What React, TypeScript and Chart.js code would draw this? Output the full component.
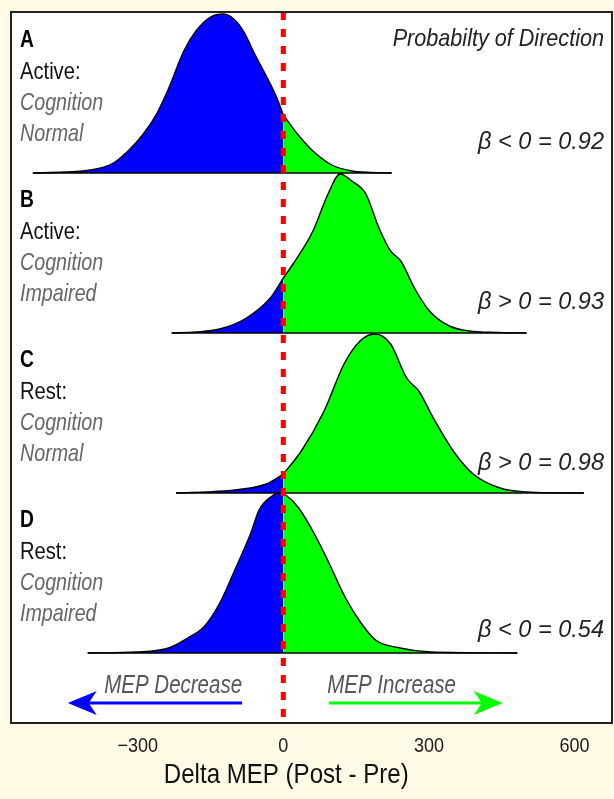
import React, { useEffect, useRef } from 'react';
import { Chart, registerables } from 'chart.js';

Chart.register(...registerables);

// ---- data ----
const xTicks = [-300, 0, 300, 600];
const panelLetters = ['A', 'B', 'C', 'D'];
const panelConditions = ['Active:', 'Active:', 'Rest:', 'Rest:'];
const panelCognition = ['Cognition', 'Cognition', 'Cognition', 'Cognition'];
const panelStatus = ['Normal', 'Impaired', 'Normal', 'Impaired'];
const pdLabels = ['\u03B2 < 0 = 0.92', '\u03B2 > 0 = 0.93', '\u03B2 > 0 = 0.98', '\u03B2 < 0 = 0.54'];
const directionLabels = ['MEP Decrease', 'MEP Increase'];
const directionArrows = [
  { from: -85, to: -444, color: '#0000FF' },
  { from: 94, to: 452, color: '#00FF00' },
];
const directionLabelX = [-227, 223];

// [delta MEP, density]
const densityA: [number, number][] = [
  [-516, 0], [-450, 0.01], [-397, 0.03], [-350, 0.1], [-320, 0.22], [-290, 0.38], [-260, 0.6],
  [-236, 0.85], [-205, 1.22], [-180, 1.42], [-150, 1.56], [-123, 1.59], [-100, 1.53], [-80, 1.4],
  [-60, 1.2], [-33, 0.95], [-15, 0.77], [0, 0.58], [29, 0.39], [61, 0.22], [100, 0.08],
  [141, 0.02], [180, 0.005], [223, 0],
];
const densityB: [number, number][] = [
  [-230, 0], [-180, 0.01], [-131, 0.04], [-76, 0.15], [-27, 0.35], [0, 0.55], [20, 0.69],
  [61, 1.02], [92, 1.39], [117, 1.59], [141, 1.52], [170, 1.39], [197, 1.05], [221, 0.82],
  [242, 0.72], [270, 0.45], [301, 0.22], [342, 0.07], [383, 0.02], [440, 0.005], [501, 0],
];
const densityC: [number, number][] = [
  [-221, 0], [-160, 0.01], [-100, 0.03], [-35, 0.09], [0, 0.19], [37, 0.42], [84, 0.82],
  [125, 1.29], [158, 1.52], [188, 1.59], [221, 1.49], [254, 1.15], [279, 1.02], [309, 0.75],
  [350, 0.42], [391, 0.19], [446, 0.05], [502, 0.01], [560, 0.002], [619, 0],
];
const densityD: [number, number][] = [
  [-403, 0], [-302, 0.01], [-236, 0.05], [-197, 0.15], [-164, 0.26], [-131, 0.5], [-100, 0.83],
  [-67, 1.2], [-50, 1.43], [-26, 1.56], [-7, 1.6], [0, 1.59], [5, 1.58], [30, 1.46], [63, 1.2],
  [94, 0.9], [127, 0.56], [160, 0.3], [190, 0.13], [240, 0.05], [304, 0.01], [482, 0],
];
const ridges = [densityA, densityB, densityC, densityD];

// ---- layout constants ----
const X_MIN = -561;
const X_MAX = 677;
const Y_MAX = 7.11;
const ROW_STEP = 1.6;
const ROW_BASE0 = 0.7;
const ARROW_Y = 0.2;
const DIR_LABEL_Y = 0.3;
const PD_LABEL_DY = [0, 0, 1, 8];
const FONT = '"Liberation Sans", Arial, Helvetica, sans-serif';

const baselineOf = (i: number) => ROW_BASE0 + (ridges.length - 1 - i) * ROW_STEP;

function drawText(
  ctx: CanvasRenderingContext2D, text: string, x: number, y: number,
  font: string, color: string, align: CanvasTextAlign, sx: number,
) {
  ctx.save();
  ctx.font = font;
  ctx.fillStyle = color;
  ctx.textAlign = align;
  ctx.textBaseline = 'alphabetic';
  ctx.translate(x, y);
  ctx.scale(sx, 1);
  ctx.fillText(text, 0, 0);
  ctx.restore();
}

const annotPlugin = {
  id: 'annot',
  beforeDraw(chart: any) {
    const { ctx, chartArea: ca } = chart;
    ctx.save();
    ctx.fillStyle = '#FFFFFF';
    ctx.fillRect(ca.left, ca.top, ca.right - ca.left, ca.bottom - ca.top);
    ctx.restore();
  },
  afterDatasetsDraw(chart: any) {
    const { ctx, chartArea: ca } = chart;
    const xs = chart.scales.x;
    const ys = chart.scales.y;

    // arrows
    directionArrows.forEach((a) => {
      const x0 = xs.getPixelForValue(a.from);
      const x1 = xs.getPixelForValue(a.to);
      const y = ys.getPixelForValue(ARROW_Y);
      const dir = Math.sign(x1 - x0);
      const headLen = 29;
      const halfW = 12;
      ctx.save();
      ctx.strokeStyle = a.color;
      ctx.fillStyle = a.color;
      ctx.lineWidth = 3;
      ctx.beginPath();
      ctx.moveTo(x0, y);
      ctx.lineTo(x1 - dir * headLen * 0.7, y);
      ctx.stroke();
      ctx.beginPath();
      ctx.moveTo(x1, y);
      ctx.lineTo(x1 - dir * headLen, y - halfW);
      ctx.lineTo(x1 - dir * headLen * 0.72, y);
      ctx.lineTo(x1 - dir * headLen, y + halfW);
      ctx.closePath();
      ctx.fill();
      ctx.restore();
    });

    directionLabels.forEach((t, i) => {
      drawText(ctx, t, xs.getPixelForValue(directionLabelX[i]), ys.getPixelForValue(DIR_LABEL_Y),
        `italic 25px ${FONT}`, '#555555', 'center', 0.82);
    });

    // panel labels
    const step = ys.getPixelForValue(0) - ys.getPixelForValue(ROW_STEP);
    for (let i = 0; i < ridges.length; i++) {
      const off = ca.top + i * step;
      const lx = ca.left + 9;
      drawText(ctx, panelLetters[i], lx, off + 35, `bold 24px ${FONT}`, '#000000', 'left', 0.8);
      drawText(ctx, panelConditions[i], lx, off + 67, `24px ${FONT}`, '#111111', 'left', 0.84);
      drawText(ctx, panelCognition[i], lx, off + 98, `italic 24px ${FONT}`, '#666666', 'left', 0.82);
      drawText(ctx, panelStatus[i], lx, off + 129, `italic 24px ${FONT}`, '#666666', 'left', 0.82);
      drawText(ctx, pdLabels[i], ca.right - 8, off + 137 + PD_LABEL_DY[i], `italic 24px ${FONT}`, '#222222', 'right', 0.98);
    }
    drawText(ctx, 'Probabilty of Direction', ca.right - 8, ca.top + 34,
      `italic 24px ${FONT}`, '#222222', 'right', 0.9);

    // frame
    ctx.save();
    ctx.strokeStyle = '#222222';
    ctx.lineWidth = 2;
    ctx.strokeRect(ca.left, ca.top, ca.right - ca.left, ca.bottom - ca.top);
    ctx.restore();
  },
  afterDraw(chart: any) {
    const { ctx, chartArea: ca } = chart;
    const xs = chart.scales.x;
    xTicks.forEach((v) => {
      const label = v < 0 ? '\u2212' + Math.abs(v) : String(v);
      drawText(ctx, label, xs.getPixelForValue(v), ca.bottom + 29, `20px ${FONT}`, '#222222', 'center', 0.9);
    });
    drawText(ctx, 'Delta MEP (Post - Pre)', xs.getPixelForValue(6), ca.bottom + 60,
      `28px ${FONT}`, '#111111', 'center', 0.86);
  },
};

export default function App() {
  const ref = useRef<HTMLCanvasElement | null>(null);

  useEffect(() => {
    if (!ref.current) return;
    const datasets: any[] = [];
    ridges.forEach((r, i) => {
      const base = baselineOf(i);
      const left = r.filter((p) => p[0] <= 0).map((p) => ({ x: p[0], y: base + p[1] }));
      const right = r.filter((p) => p[0] >= 0).map((p) => ({ x: p[0], y: base + p[1] }));
      const order = 10 - i;
      [[left, '#0000FF'], [right, '#00FF00']].forEach(([pts, col]) => {
        datasets.push({
          data: pts,
          backgroundColor: col,
          borderColor: '#000000',
          borderWidth: 1.4,
          fill: { value: base },
          pointRadius: 0,
          cubicInterpolationMode: 'monotone',
          order,
        });
      });
      datasets.push({
        data: [{ x: r[0][0], y: base }, { x: r[r.length - 1][0], y: base }],
        borderColor: '#000000',
        borderWidth: 1.6,
        pointRadius: 0,
        fill: false,
        order: 5,
      });
    });
    datasets.push({
      data: [{ x: 0, y: Y_MAX }, { x: 0, y: 0 }],
      borderColor: '#FF0000',
      borderWidth: 5,
      borderDash: [8, 9],
      pointRadius: 0,
      fill: false,
      order: 0,
    });

    const chart = new Chart(ref.current, {
      type: 'line',
      data: { datasets },
      options: {
        animation: false,
        responsive: false,
        devicePixelRatio: 1,
        layout: { padding: { left: 11, top: 12, right: 2, bottom: 76 } },
        plugins: { legend: { display: false }, tooltip: { enabled: false } },
        events: [],
        scales: {
          x: { type: 'linear', min: X_MIN, max: X_MAX, display: false },
          y: { type: 'linear', min: 0, max: Y_MAX, display: false },
        },
      },
      plugins: [annotPlugin],
    });
    return () => chart.destroy();
  }, []);

  return (
    <div style={{ position: 'absolute', left: 0, top: 0, width: 614, height: 799, background: '#FFF9E6' }}>
      <canvas ref={ref} width={614} height={799} style={{ display: 'block', width: 614, height: 799 }} />
    </div>
  );
}
